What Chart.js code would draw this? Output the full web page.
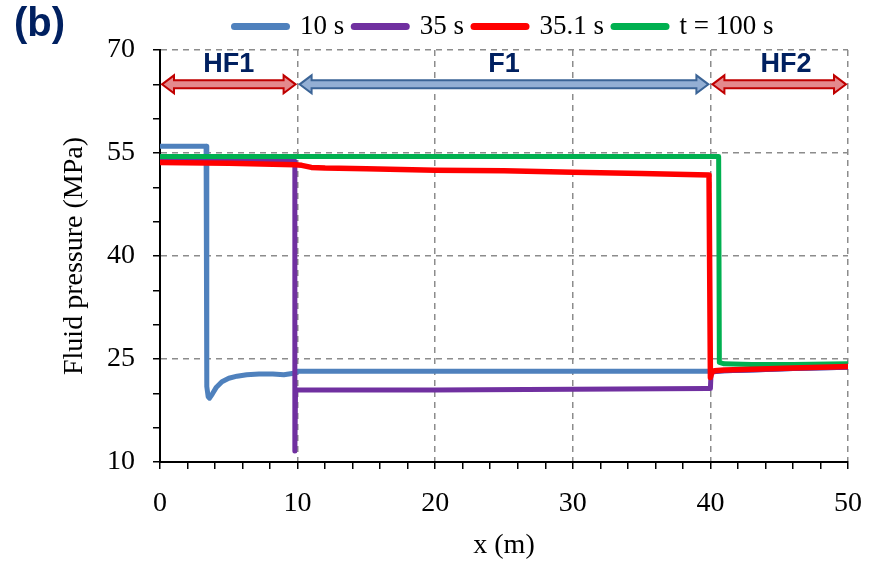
<!DOCTYPE html>
<html>
<head>
<meta charset="utf-8">
<script src="https://cdn.jsdelivr.net/npm/chart.js@4.4.0/dist/chart.umd.min.js"></script>
<style>
  body { margin: 0; background: #fff; }
  #wrap { position: relative; width: 876px; height: 562px; }
  #tag { position: absolute; left: 14px; top: 0px; font: bold 40px 'Liberation Sans', sans-serif; color: #002060; }
</style>
</head>
<body>
<div id="wrap">
  <canvas id="mycanvas" width="876" height="562"></canvas>
  <div id="tag">(b)</div>
</div>
<script>
// series: x (m) and fluid pressure (MPa)
var x10  = [0, 3.35, 3.4, 3.5, 3.6, 3.8, 4.1, 4.5, 5.0, 5.6, 6.3, 7.2, 8.2, 9.0, 9.6, 9.9, 10.0, 20, 30, 40, 41, 43, 46, 50];
var p10  = [56.0, 56.0, 21.0, 19.5, 19.3, 19.9, 20.9, 21.7, 22.2, 22.5, 22.7, 22.8, 22.8, 22.7, 22.9, 23.0, 23.2, 23.2, 23.2, 23.2, 23.3, 23.4, 23.6, 23.8];

var x35  = [0, 5, 9.8, 9.8, 9.85, 10.0, 20, 30, 39.8, 40.0, 40.05, 41, 43, 46, 50];
var p35  = [53.9, 53.9, 53.8, 11.6, 20.5, 20.5, 20.5, 20.6, 20.7, 20.7, 23.1, 23.3, 23.4, 23.6, 23.8];

var x351 = [0, 5, 9.8, 10.3, 11, 12, 15, 20, 25, 30, 35, 39.9, 40.0, 40.1, 40.3, 41, 43, 46, 50];
var p351 = [53.6, 53.5, 53.3, 53.2, 52.9, 52.8, 52.7, 52.5, 52.4, 52.2, 52.0, 51.8, 22.3, 23.0, 23.3, 23.4, 23.5, 23.7, 23.9];

var x100 = [0, 20, 40.6, 40.65, 41, 43, 46, 50];
var p100 = [54.5, 54.5, 54.5, 24.5, 24.3, 24.2, 24.2, 24.3];

var seriesNames = ["10 s", "35 s", "35.1 s", "t = 100 s"];

// fracture zones along the top
var zoneNames = ["HF1", "F1", "HF2"];
var zoneStart = [0, 10, 40];
var zoneEnd   = [10, 40, 50];
var zoneLabelX = [5, 25, 45.5];
var zoneLevel = 65;

var yTickLabels = [10, 25, 40, 55, 70];
var xTickLabels = [0, 10, 20, 30, 40, 50];

function pts(xs, ys) {
  return xs.map(function(x, i){ return {x: x, y: ys[i]}; });
}

var zonePlugin = {
  id: 'zones',
  afterDraw: function(chart) {
    var ctx = chart.ctx;
    var xs = chart.scales.x, ys = chart.scales.y;
    var y = ys.getPixelForValue(zoneLevel);
    for (var i = 0; i < zoneNames.length; i++) {
      var x1 = xs.getPixelForValue(zoneStart[i]) + 2;
      var x2 = xs.getPixelForValue(zoneEnd[i]) - 2;
      var red = zoneNames[i] != "F1";
      var hl = 12, hh = 9, sh = 4;
      ctx.save();
      ctx.beginPath();
      ctx.moveTo(x1, y);
      ctx.lineTo(x1 + hl, y - hh);
      ctx.lineTo(x1 + hl, y - sh);
      ctx.lineTo(x2 - hl, y - sh);
      ctx.lineTo(x2 - hl, y - hh);
      ctx.lineTo(x2, y);
      ctx.lineTo(x2 - hl, y + hh);
      ctx.lineTo(x2 - hl, y + sh);
      ctx.lineTo(x1 + hl, y + sh);
      ctx.lineTo(x1 + hl, y + hh);
      ctx.closePath();
      ctx.fillStyle = red ? "#E4898D" : "#93AFD4";
      ctx.fill();
      ctx.lineWidth = 2;
      ctx.lineJoin = 'miter';
      ctx.strokeStyle = red ? "#C00000" : "#3B6496";
      ctx.stroke();
      ctx.fillStyle = "#002060";
      ctx.font = "bold 27px 'Liberation Sans', sans-serif";
      ctx.textAlign = "center";
      ctx.textBaseline = "alphabetic";
      ctx.fillText(zoneNames[i], xs.getPixelForValue(zoneLabelX[i]), y - 12);
      ctx.restore();
    }
  }
};

var gridColor = "#8c8c8c";

var ctx = document.getElementById("mycanvas");
var chart = new Chart(ctx, {
  type: 'line',
  data: {
    datasets: [
      { label: seriesNames[0], data: pts(x10, p10), borderColor: "#4F81BD", backgroundColor: "#4F81BD", borderWidth: 5, order: 3 },
      { label: seriesNames[1], data: pts(x35, p35), borderColor: "#7030A0", backgroundColor: "#7030A0", borderWidth: 5, order: 2 },
      { label: seriesNames[2], data: pts(x351, p351), borderColor: "#FF0000", backgroundColor: "#FF0000", borderWidth: 5.5, order: 0 },
      { label: seriesNames[3], data: pts(x100, p100), borderColor: "#00B050", backgroundColor: "#00B050", borderWidth: 5, order: 1 }
    ]
  },
  options: {
    responsive: false,
    animation: false,
    elements: {
      point: { radius: 0 },
      line: { tension: 0, borderCapStyle: 'round', borderJoinStyle: 'round', fill: false }
    },
    layout: { padding: { left: 0, right: 28, top: 3, bottom: 0 } },
    plugins: {
      tooltip: { enabled: false },
      legend: {
        position: 'top',
        fullSize: false,
        labels: {
          usePointStyle: true,
          pointStyle: 'line',
          pointStyleWidth: 52,
          padding: 10,
          color: "#000",
          font: {family: "Liberation Serif", size: 27},
          sort: function(a, b){ return a.datasetIndex - b.datasetIndex; },
          generateLabels: function(chart) {
            var items = Chart.defaults.plugins.legend.labels.generateLabels(chart);
            items.forEach(function(it){ it.lineWidth = 7; it.lineCap = 'round'; });
            return items;
          }
        }
      }
    },
    scales: {
      x: {
        type: 'linear',
        min: 0, max: 50,
        afterFit: function(s){ s.height = 100; s.paddingRight = 0; },
        ticks: {
          stepSize: 2, autoSkip: false, maxRotation: 0, padding: 18,
          color: "#000", font: {family: "Liberation Serif", size: 28},
          callback: function(v){ return xTickLabels.indexOf(v) >= 0 ? v : ''; }
        },
        grid: {
          color: function(c){ return c.tick && xTickLabels.indexOf(c.tick.value) >= 0 ? gridColor : 'rgba(0,0,0,0)'; },
          lineWidth: 1.5, tickColor: "#000", tickLength: 7, tickWidth: 1.5
        },
        border: { color: "#000", width: 2, dash: [6, 5] },
        title: { display: true, text: "x (m)", color: "#000", font: {family: "Liberation Serif", size: 28}, padding: {top: 0, bottom: 0} }
      },
      y: {
        min: 10, max: 70,
        afterFit: function(s){ s.width = 160; },
        ticks: {
          stepSize: 5, autoSkip: false, padding: 18,
          color: "#000", font: {family: "Liberation Serif", size: 28},
          callback: function(v){ return yTickLabels.indexOf(v) >= 0 ? v : ''; }
        },
        grid: {
          color: function(c){ return c.tick && yTickLabels.indexOf(c.tick.value) >= 0 ? gridColor : 'rgba(0,0,0,0)'; },
          lineWidth: 1.5, tickColor: "#000", tickLength: 7, tickWidth: 1.5
        },
        border: { color: "#000", width: 2, dash: [6, 5] },
        title: { display: true, text: "Fluid pressure (MPa)", color: "#000", font: {family: "Liberation Serif", size: 28}, padding: {top: 58, bottom: 0} }
      }
    }
  },
  plugins: [zonePlugin]
});
</script>
</body>
</html>
